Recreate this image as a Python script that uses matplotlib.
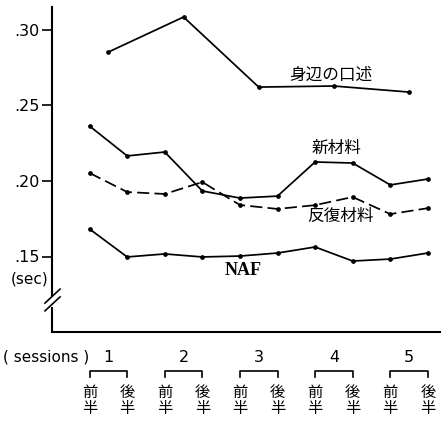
import matplotlib
matplotlib.use("Agg")
import matplotlib.pyplot as plt
import numpy as np

plt.rcParams['font.family'] = ['DejaVu Sans', 'Noto Sans CJK JP']

# data (sec)
halves = [1, 2, 3, 4, 5, 6, 7, 8, 9, 10]
sessions = [1.5, 3.5, 5.5, 7.5, 9.5]
session_labels = ['1', '2', '3', '4', '5']
shinpen = [0.2854, 0.3086, 0.2622, 0.2629, 0.2589]
shin_zairyo = [0.2364, 0.2166, 0.2192, 0.1934, 0.1887, 0.1900, 0.2126, 0.2119, 0.1974, 0.2013]
hanpuku = [0.2053, 0.1927, 0.1914, 0.1993, 0.1841, 0.1815, 0.1840, 0.1894, 0.1781, 0.1820]
naf = [0.1682, 0.1497, 0.1517, 0.1497, 0.1503, 0.1523, 0.1563, 0.1470, 0.1483, 0.1523]
yticks = [0.15, 0.20, 0.25, 0.30]
ytick_labels = ['.15', '.20', '.25', '.30']

W, H = 441, 421
fig = plt.figure(figsize=(W/100, H/100), dpi=100)
ax = fig.add_axes([52/W, 1-332/H, 1-52/W, 325/H])

lw = 1.25
ax.plot(sessions, shinpen, color='k', lw=lw, marker='o', ms=2.4)
ax.plot(halves, shin_zairyo, color='k', lw=lw, marker='o', ms=2.4)
ax.plot(halves, hanpuku, color='k', lw=lw, marker='o', ms=2.4, dashes=(7, 3))
ax.plot(halves, naf, color='k', lw=lw, marker='o', ms=2.4)

ax.set_xlim(0, 10.35)
ax.set_ylim(0.10, 0.10 + 325/1510)

# line labels
jp = 'Noto Sans CJK JP'
ax.text(7.43, 0.2702, '身辺の口述', family=jp, fontsize=12, ha='center', va='center')
ax.text(7.56, 0.2219, '新材料', family=jp, fontsize=12, ha='center', va='center')
ax.text(7.67, 0.1768, '反復材料', family=jp, fontsize=12, ha='center', va='center')
ax.text(5.09, 0.1404, 'NAF', family='Liberation Serif', fontweight='bold', fontsize=13, ha='center', va='center')

# axes: hand drawn with a break on the y axis
for s in ax.spines.values():
    s.set_visible(False)
ax.set_xticks([])
ax.set_yticks(yticks)
ax.set_yticklabels(ytick_labels, fontsize=11.5)
ax.tick_params(axis='y', direction='out', length=7, width=1.2, pad=2)

kw = dict(color='k', lw=1.5, transform=ax.transAxes, clip_on=False)
ax.plot([0, 0], [1, 0.114], **kw)
ax.plot([0, 0], [0.074, 0], **kw)
ax.plot([0, 1], [0, 0], **kw)
ax.plot([-0.018, 0.0206], [0.089, 0.132], color='k', lw=1.2, transform=ax.transAxes, clip_on=False)
ax.plot([-0.018, 0.0206], [0.065, 0.108], color='k', lw=1.2, transform=ax.transAxes, clip_on=False)

fig.text(30/W, 1-279/H, '(sec)', fontsize=11, ha='center', va='center')

# session labels under the x axis
tr = ax.get_xaxis_transform()
ax.text(-1.30, -0.077, '( sessions )', fontsize=11, ha='left', va='center', transform=tr)
for i in range(5):
    c = sessions[i]
    ax.text(c, -0.077, session_labels[i], fontsize=11.5, ha='center', va='center', transform=tr)
    ax.plot([c-0.5, c-0.5, c+0.5, c+0.5], [-0.138, -0.12, -0.12, -0.138], color='k', lw=1.2,
            transform=tr, clip_on=False)
    ax.text(c-0.5, -0.185, '前', family=jp, fontsize=11, ha='center', va='center', transform=tr)
    ax.text(c-0.5, -0.236, '半', family=jp, fontsize=11, ha='center', va='center', transform=tr)
    ax.text(c+0.5, -0.185, '後', family=jp, fontsize=11, ha='center', va='center', transform=tr)
    ax.text(c+0.5, -0.236, '半', family=jp, fontsize=11, ha='center', va='center', transform=tr)

plt.savefig("out.png", dpi=100)
